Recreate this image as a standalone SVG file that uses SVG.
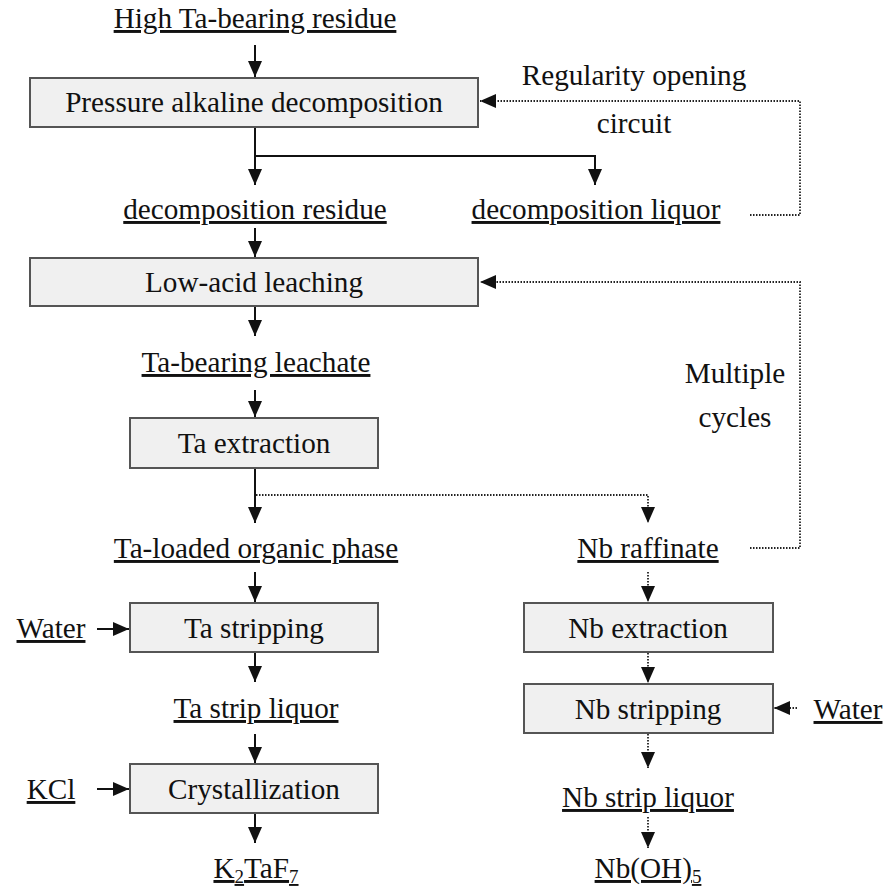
<svg xmlns="http://www.w3.org/2000/svg" width="889" height="888" viewBox="0 0 889 888">
<style>
text{font-family:'Liberation Serif','Times New Roman',serif;font-size:29.2px;fill:#111;text-anchor:middle}
.u{text-decoration:underline}
.box{fill:#f0f0f0;stroke:#555;stroke-width:2}
.s{fill:none;stroke:#111;stroke-width:2}
.d{fill:none;stroke:#222;stroke-width:1.8;stroke-dasharray:1.5 1.5}
</style>
<defs>
<marker id="ah" markerUnits="userSpaceOnUse" markerWidth="17" markerHeight="17" viewBox="0 0 17 17" refX="16" refY="8.5" orient="auto">
<path d="M0,1.5 L16,8.5 L0,15.5 Z" fill="#111"/>
</marker>
</defs>
<rect width="889" height="888" fill="#fff"/>

<g id="connectors">
<path class="s" d="M255,45 V77" marker-end="url(#ah)"/>
<path class="s" d="M255,127 V185" marker-end="url(#ah)"/>
<path class="s" d="M255,156 H595 V185" marker-end="url(#ah)"/>
<path class="d" d="M750,215 H800 V101 H480" marker-end="url(#ah)"/>
<path class="s" d="M255,228 V257" marker-end="url(#ah)"/>
<path class="d" d="M750,548 H800 V282 H480" marker-end="url(#ah)"/>
<path class="s" d="M255,306 V336" marker-end="url(#ah)"/>
<path class="s" d="M255,390 V417" marker-end="url(#ah)"/>
<path class="s" d="M255,468 V523" marker-end="url(#ah)"/>
<path class="d" d="M256,495 H648 V523" marker-end="url(#ah)"/>
<path class="s" d="M255,572 V602" marker-end="url(#ah)"/>
<path class="s" d="M97,629 H129" marker-end="url(#ah)"/>
<path class="s" d="M255,653 V682" marker-end="url(#ah)"/>
<path class="s" d="M255,734 V763" marker-end="url(#ah)"/>
<path class="s" d="M97,789 H129" marker-end="url(#ah)"/>
<path class="s" d="M255,813 V843" marker-end="url(#ah)"/>
<path class="d" d="M648,572 V602" marker-end="url(#ah)"/>
<path class="d" d="M648,653 V683" marker-end="url(#ah)"/>
<path class="d" d="M797,708 H774" marker-end="url(#ah)"/>
<path class="d" d="M648,734 V768" marker-end="url(#ah)"/>
<path class="d" d="M648,817 V848" marker-end="url(#ah)"/>
</g>

<g id="n-high"><text class="u" x="255" y="28">High Ta-bearing residue</text></g>
<g id="n-pad"><rect class="box" x="30" y="78" width="448" height="49"/><text x="254" y="112">Pressure alkaline decomposition</text></g>
<g id="n-regularity"><text x="634" y="85">Regularity opening</text><text x="634" y="133">circuit</text></g>
<g id="n-dres"><text class="u" x="255" y="219">decomposition residue</text></g>
<g id="n-dliq"><text class="u" x="596" y="219">decomposition liquor</text></g>
<g id="n-lal"><rect class="box" x="30" y="258" width="448" height="48"/><text x="254" y="292">Low-acid leaching</text></g>
<g id="n-tbl"><text class="u" x="256" y="372">Ta-bearing leachate</text></g>
<g id="n-multiple"><text x="735" y="383">Multiple</text><text x="735" y="427">cycles</text></g>
<g id="n-taext"><rect class="box" x="130" y="418" width="248" height="50"/><text x="254" y="453">Ta extraction</text></g>
<g id="n-talop"><text class="u" x="256" y="558">Ta-loaded organic phase</text></g>
<g id="n-nbraf"><text class="u" x="648" y="558">Nb raffinate</text></g>
<g id="n-water1"><text class="u" x="51" y="638">Water</text></g>
<g id="n-tastrip"><rect class="box" x="130" y="603" width="248" height="49"/><text x="254" y="638">Ta stripping</text></g>
<g id="n-tasl"><text class="u" x="256" y="718">Ta strip liquor</text></g>
<g id="n-kcl"><text class="u" x="51" y="799">KCl</text></g>
<g id="n-cryst"><rect class="box" x="130" y="764" width="248" height="49"/><text x="254" y="799">Crystallization</text></g>
<g id="n-k2taf7"><text class="u" x="256" y="878">K<tspan font-size="19" dy="5">2</tspan><tspan dy="-5">TaF</tspan><tspan font-size="19" dy="5">7</tspan></text></g>
<g id="n-nbext"><rect class="box" x="524" y="603" width="249" height="49"/><text x="648" y="638">Nb extraction</text></g>
<g id="n-nbstrip"><rect class="box" x="524" y="684" width="249" height="49"/><text x="648" y="719">Nb stripping</text></g>
<g id="n-water2"><text class="u" x="848" y="719">Water</text></g>
<g id="n-nbsl"><text class="u" x="648" y="807">Nb strip liquor</text></g>
<g id="n-nboh5"><text class="u" x="648" y="878">Nb(OH)<tspan font-size="19" dy="5">5</tspan></text></g>
</svg>
